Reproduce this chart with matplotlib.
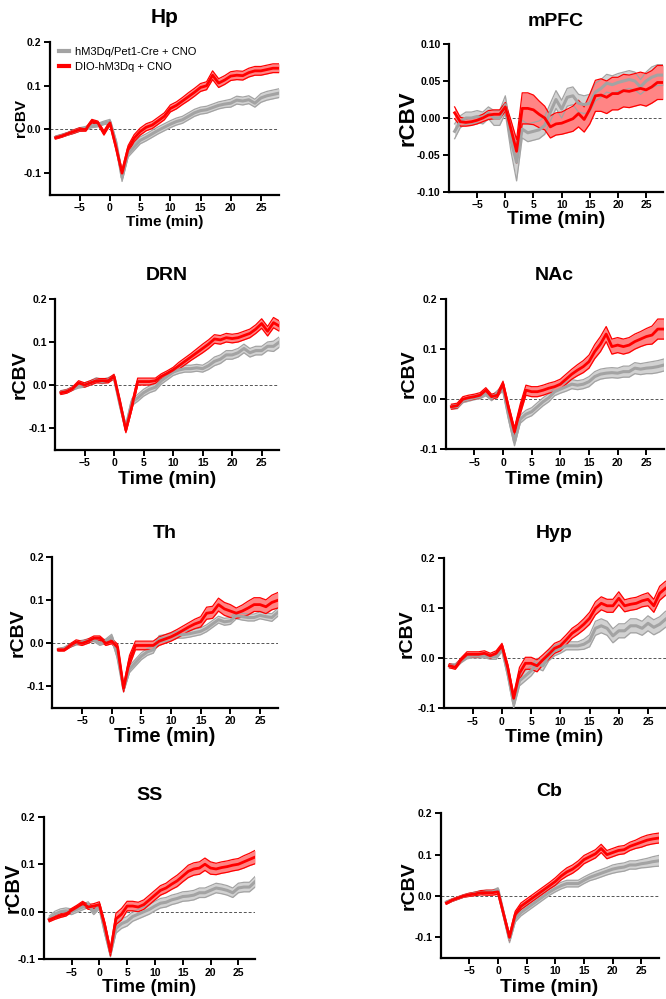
import matplotlib.pyplot as plt
from matplotlib.lines import Line2D
import numpy as np

plt.rcParams['font.family'] = ['Liberation Sans', 'DejaVu Sans']

# time points (min), -9 .. 28
time = list(range(-9, 29))

legend_labels = ['hM3Dq/Pet1-Cre + CNO', 'DIO-hM3Dq + CNO']

# ---- Hp
hp_gray = [-0.018, -0.014, -0.01, -0.005, 0.0, 0.003, 0.008, 0.01, 0.015, 0.018,
           -0.03, -0.11, -0.055, -0.04, -0.025, -0.018, -0.01, -0.002, 0.005, 0.012,
           0.018, 0.022, 0.03, 0.038, 0.043, 0.045, 0.05, 0.055, 0.058, 0.06,
           0.067, 0.065, 0.068, 0.06, 0.072, 0.077, 0.08, 0.083]
hp_gray_sem = [0.003, 0.003, 0.003, 0.004, 0.004, 0.004, 0.004, 0.004, 0.004, 0.005,
               0.006, 0.009, 0.008, 0.008, 0.008, 0.008, 0.008, 0.008, 0.008, 0.008,
               0.008, 0.008, 0.008, 0.008, 0.008, 0.008, 0.008, 0.008, 0.008, 0.009,
               0.009, 0.009, 0.009, 0.009, 0.01, 0.01, 0.01, 0.01]
hp_red = [-0.019, -0.015, -0.01, -0.005, 0.0, 0.0, 0.019, 0.015, -0.008, 0.015,
          -0.04, -0.1, -0.045, -0.02, -0.005, 0.005, 0.01, 0.02, 0.03, 0.048,
          0.055, 0.065, 0.075, 0.085, 0.096, 0.1, 0.124, 0.106, 0.113, 0.122,
          0.124, 0.123, 0.13, 0.134, 0.134, 0.137, 0.14, 0.14]
hp_red_sem = [0.003, 0.003, 0.003, 0.004, 0.004, 0.004, 0.004, 0.004, 0.005, 0.005,
              0.006, 0.008, 0.008, 0.008, 0.008, 0.008, 0.008, 0.008, 0.008, 0.008,
              0.008, 0.008, 0.009, 0.009, 0.009, 0.009, 0.01, 0.01, 0.01, 0.01,
              0.01, 0.01, 0.01, 0.01, 0.01, 0.01, 0.01, 0.01]

# ---- mPFC
mpfc_gray = [-0.018, -0.005, 0.0, 0.0, 0.002, 0.0, 0.007, 0.0, 0.0, 0.018,
             -0.03, -0.06, -0.015, -0.02, -0.018, -0.016, -0.01, 0.008, 0.025, 0.012,
             0.028, 0.03, 0.02, 0.018, 0.02, 0.035, 0.04, 0.047, 0.045, 0.048,
             0.05, 0.052, 0.05, 0.042, 0.05, 0.055, 0.058, 0.058]
mpfc_gray_sem = [0.01, 0.008, 0.008, 0.008, 0.008, 0.008, 0.008, 0.01, 0.01, 0.012,
                 0.015, 0.025, 0.012, 0.012, 0.012, 0.012, 0.012, 0.012, 0.012, 0.012,
                 0.012, 0.012, 0.012, 0.012, 0.012, 0.012, 0.012, 0.012, 0.012, 0.012,
                 0.012, 0.012, 0.012, 0.01, 0.012, 0.014, 0.014, 0.014]
mpfc_red = [0.007, -0.005, -0.006, -0.005, -0.003, 0.0, 0.004, 0.005, 0.005, 0.015,
            -0.015, -0.045, 0.013, 0.013, 0.011, 0.005, 0.0, -0.012, -0.008, -0.007,
            -0.004, -0.001, 0.006, -0.002, 0.012, 0.03, 0.031, 0.028, 0.033, 0.033,
            0.037, 0.036, 0.038, 0.04, 0.038, 0.042, 0.048, 0.048]
mpfc_red_sem = [0.008, 0.006, 0.005, 0.005, 0.005, 0.005, 0.006, 0.006, 0.006, 0.006,
                0.012, 0.016, 0.021, 0.021, 0.02, 0.018, 0.016, 0.015, 0.015, 0.015,
                0.016, 0.017, 0.018, 0.017, 0.02, 0.021, 0.022, 0.022, 0.022, 0.022,
                0.022, 0.022, 0.022, 0.022, 0.022, 0.022, 0.023, 0.023]

# ---- DRN
drn_gray = [-0.017, -0.014, -0.008, -0.002, 0.0, 0.005, 0.012, 0.008, 0.012, 0.018,
            -0.045, -0.1, -0.04, -0.03, -0.018, -0.01, -0.005, 0.01, 0.02, 0.03,
            0.035, 0.038, 0.038, 0.04, 0.038, 0.045, 0.055, 0.06, 0.07, 0.07,
            0.075, 0.085, 0.075, 0.08, 0.08, 0.09, 0.09, 0.1]
drn_gray_sem = [0.004, 0.004, 0.004, 0.005, 0.005, 0.005, 0.005, 0.005, 0.005, 0.005,
                0.007, 0.008, 0.008, 0.008, 0.008, 0.008, 0.008, 0.008, 0.008, 0.008,
                0.008, 0.008, 0.008, 0.008, 0.008, 0.009, 0.01, 0.01, 0.01, 0.01,
                0.01, 0.01, 0.01, 0.01, 0.01, 0.01, 0.012, 0.012]
drn_red = [-0.018, -0.015, -0.008, 0.005, 0.0, 0.005, 0.01, 0.01, 0.01, 0.02,
           -0.04, -0.105, -0.05, 0.008, 0.008, 0.008, 0.01, 0.02, 0.027, 0.035,
           0.045, 0.055, 0.065, 0.075, 0.085, 0.095, 0.107, 0.105, 0.11, 0.108,
           0.11, 0.115, 0.12, 0.13, 0.143, 0.125, 0.145, 0.137]
drn_red_sem = [0.004, 0.004, 0.004, 0.005, 0.005, 0.005, 0.005, 0.005, 0.005, 0.005,
               0.006, 0.006, 0.008, 0.008, 0.008, 0.008, 0.006, 0.006, 0.006, 0.006,
               0.008, 0.008, 0.008, 0.009, 0.01, 0.01, 0.01, 0.01, 0.01, 0.01,
               0.01, 0.01, 0.01, 0.01, 0.011, 0.011, 0.012, 0.012]

# ---- NAc
nac_gray = [-0.015, -0.015, -0.003, 0.0, 0.003, 0.005, 0.012, 0.002, 0.012, 0.022,
            -0.035, -0.085, -0.04, -0.03, -0.025, -0.015, -0.005, 0.003, 0.015, 0.02,
            0.025, 0.03, 0.028, 0.03, 0.035, 0.045, 0.05, 0.052, 0.053, 0.052,
            0.055, 0.055, 0.062, 0.06, 0.062, 0.063, 0.065, 0.068]
nac_gray_sem = [0.004, 0.004, 0.004, 0.004, 0.004, 0.004, 0.005, 0.005, 0.005, 0.006,
                0.007, 0.008, 0.008, 0.008, 0.008, 0.008, 0.008, 0.008, 0.008, 0.008,
                0.009, 0.009, 0.009, 0.009, 0.01, 0.01, 0.01, 0.01, 0.01, 0.01,
                0.011, 0.011, 0.011, 0.011, 0.011, 0.012, 0.012, 0.012]
nac_red = [-0.015, -0.013, 0.0, 0.003, 0.005, 0.008, 0.018, 0.005, 0.008, 0.03,
           -0.02, -0.065, -0.02, 0.018, 0.015, 0.015, 0.018, 0.022, 0.025, 0.03,
           0.04, 0.05, 0.058, 0.065, 0.075, 0.095, 0.11, 0.13, 0.105, 0.108,
           0.105, 0.108, 0.115, 0.12, 0.125, 0.128, 0.14, 0.14]
nac_red_sem = [0.005, 0.005, 0.005, 0.005, 0.005, 0.005, 0.005, 0.005, 0.005, 0.006,
               0.008, 0.008, 0.01, 0.01, 0.01, 0.01, 0.01, 0.01, 0.01, 0.01,
               0.01, 0.01, 0.011, 0.012, 0.013, 0.014, 0.015, 0.015, 0.015, 0.015,
               0.015, 0.015, 0.015, 0.015, 0.016, 0.018, 0.02, 0.02]

# ---- Th
th_gray = [-0.015, -0.012, -0.005, 0.0, 0.003, 0.006, 0.008, 0.0, 0.005, 0.015,
           -0.03, -0.105, -0.06, -0.045, -0.03, -0.02, -0.015, 0.01, 0.012, 0.015,
           0.02, 0.02, 0.022, 0.025, 0.028, 0.035, 0.045, 0.055, 0.05, 0.052,
           0.065, 0.062, 0.06, 0.06, 0.065, 0.062, 0.06, 0.072]
th_gray_sem = [0.003, 0.003, 0.004, 0.004, 0.004, 0.004, 0.004, 0.005, 0.005, 0.006,
               0.007, 0.008, 0.008, 0.008, 0.008, 0.008, 0.008, 0.008, 0.008, 0.008,
               0.008, 0.008, 0.008, 0.008, 0.008, 0.008, 0.008, 0.008, 0.008, 0.008,
               0.008, 0.008, 0.008, 0.008, 0.008, 0.008, 0.009, 0.009]
th_red = [-0.015, -0.015, -0.005, 0.003, 0.0, 0.005, 0.012, 0.012, 0.0, 0.005,
          -0.01, -0.105, -0.04, -0.005, -0.005, -0.005, -0.005, 0.005, 0.01, 0.015,
          0.022, 0.03, 0.038, 0.045, 0.05, 0.07, 0.072, 0.09, 0.08, 0.075,
          0.07, 0.075, 0.082, 0.09, 0.09, 0.085, 0.095, 0.1]
th_red_sem = [0.003, 0.003, 0.004, 0.005, 0.005, 0.005, 0.005, 0.005, 0.005, 0.006,
              0.008, 0.008, 0.012, 0.01, 0.01, 0.01, 0.01, 0.01, 0.01, 0.01,
              0.01, 0.01, 0.01, 0.011, 0.012, 0.014, 0.014, 0.015, 0.015, 0.015,
              0.012, 0.014, 0.016, 0.016, 0.016, 0.016, 0.017, 0.018]

# ---- Hyp
hyp_gray = [-0.015, -0.015, -0.005, 0.003, 0.005, 0.005, 0.005, 0.003, 0.003, 0.02,
            -0.03, -0.09, -0.045, -0.035, -0.025, -0.01, -0.015, 0.005, 0.015, 0.02,
            0.025, 0.025, 0.025, 0.028, 0.035, 0.06, 0.065, 0.06, 0.045, 0.055,
            0.055, 0.065, 0.065, 0.06, 0.07, 0.062, 0.068, 0.078]
hyp_gray_sem = [0.004, 0.004, 0.004, 0.004, 0.004, 0.004, 0.004, 0.005, 0.005, 0.006,
                0.008, 0.01, 0.01, 0.01, 0.01, 0.01, 0.01, 0.01, 0.01, 0.01,
                0.008, 0.008, 0.008, 0.01, 0.012, 0.014, 0.014, 0.014, 0.014, 0.014,
                0.014, 0.014, 0.014, 0.014, 0.015, 0.015, 0.015, 0.016]
hyp_red = [-0.015, -0.018, -0.003, 0.008, 0.008, 0.008, 0.01, 0.005, 0.01, 0.025,
           -0.02, -0.08, -0.03, -0.01, -0.01, -0.015, -0.003, 0.008, 0.02, 0.025,
           0.037, 0.05, 0.058, 0.068, 0.08, 0.1, 0.11, 0.105, 0.105, 0.12,
           0.105, 0.108, 0.11, 0.115, 0.118, 0.105, 0.13, 0.14]
hyp_red_sem = [0.004, 0.004, 0.004, 0.005, 0.005, 0.005, 0.005, 0.005, 0.005, 0.005,
               0.008, 0.008, 0.012, 0.012, 0.012, 0.012, 0.01, 0.01, 0.01, 0.01,
               0.01, 0.01, 0.01, 0.011, 0.012, 0.013, 0.013, 0.013, 0.013, 0.013,
               0.012, 0.012, 0.012, 0.012, 0.013, 0.013, 0.014, 0.014]

# ---- SS
ss_gray = [-0.015, -0.005, 0.0, 0.002, 0.0, 0.005, 0.01, 0.015, 0.0, 0.012,
           -0.04, -0.085, -0.035, -0.025, -0.02, -0.01, -0.005, 0.0, 0.005, 0.012,
           0.018, 0.02, 0.025, 0.028, 0.032, 0.033, 0.035, 0.04, 0.04, 0.045,
           0.05, 0.048, 0.045, 0.04, 0.05, 0.052, 0.052, 0.063]
ss_gray_sem = [0.006, 0.006, 0.006, 0.006, 0.006, 0.006, 0.006, 0.006, 0.006, 0.006,
               0.008, 0.01, 0.01, 0.01, 0.01, 0.01, 0.01, 0.01, 0.01, 0.01,
               0.01, 0.01, 0.01, 0.01, 0.01, 0.01, 0.01, 0.01, 0.01, 0.01,
               0.01, 0.01, 0.01, 0.01, 0.01, 0.01, 0.01, 0.011]
ss_red = [-0.017, -0.012, -0.008, -0.005, 0.003, 0.01, 0.018, 0.01, 0.012, 0.015,
          -0.03, -0.085, -0.015, -0.005, 0.012, 0.012, 0.01, 0.015, 0.025, 0.035,
          0.045, 0.05, 0.058, 0.065, 0.075, 0.085, 0.09, 0.092, 0.1, 0.092,
          0.09, 0.093, 0.095, 0.098, 0.1, 0.105, 0.11, 0.115]
ss_red_sem = [0.004, 0.004, 0.004, 0.004, 0.004, 0.004, 0.004, 0.005, 0.005, 0.006,
              0.008, 0.008, 0.012, 0.012, 0.01, 0.01, 0.01, 0.01, 0.01, 0.01,
              0.01, 0.01, 0.011, 0.012, 0.012, 0.013, 0.013, 0.013, 0.013, 0.013,
              0.012, 0.012, 0.012, 0.012, 0.012, 0.013, 0.013, 0.014]

# ---- Cb
cb_gray = [-0.015, -0.01, -0.005, 0.0, 0.003, 0.006, 0.008, 0.01, 0.01, 0.015,
           -0.045, -0.105, -0.055, -0.04, -0.03, -0.02, -0.01, 0.0, 0.01, 0.018,
           0.025, 0.03, 0.03, 0.03, 0.038, 0.045, 0.05, 0.055, 0.06, 0.065,
           0.068, 0.07, 0.075, 0.075, 0.078, 0.08, 0.083, 0.085]
cb_gray_sem = [0.003, 0.003, 0.003, 0.003, 0.003, 0.004, 0.004, 0.004, 0.004, 0.005,
               0.006, 0.008, 0.008, 0.008, 0.008, 0.008, 0.008, 0.008, 0.008, 0.008,
               0.008, 0.008, 0.008, 0.008, 0.008, 0.008, 0.009, 0.009, 0.009, 0.01,
               0.01, 0.01, 0.01, 0.01, 0.01, 0.011, 0.012, 0.013]
cb_red = [-0.017, -0.01, -0.005, 0.0, 0.003, 0.005, 0.008, 0.008, 0.008, 0.01,
          -0.045, -0.1, -0.045, -0.025, -0.015, -0.005, 0.005, 0.015, 0.025, 0.035,
          0.048, 0.058, 0.065, 0.075, 0.088, 0.095, 0.102, 0.115, 0.1, 0.105,
          0.11, 0.112, 0.12, 0.125, 0.13, 0.135, 0.138, 0.14]
cb_red_sem = [0.003, 0.003, 0.003, 0.003, 0.004, 0.004, 0.005, 0.006, 0.006, 0.006,
              0.006, 0.008, 0.008, 0.008, 0.008, 0.008, 0.008, 0.008, 0.008, 0.009,
              0.009, 0.01, 0.01, 0.01, 0.01, 0.01, 0.01, 0.01, 0.01, 0.01,
              0.01, 0.01, 0.01, 0.01, 0.012, 0.012, 0.012, 0.012]

W, H = 666, 999
fig = plt.figure(figsize=(W / 100, H / 100), dpi=100)

GRAY_FILL = '#d2d2d2'
GRAY_LINE = '#a3a3a3'
RED_FILL = '#ff8585'
RED_LINE = '#ff0000'


def band(ax, mean, sem, fill, edge, mlw):
    m = np.array(mean)
    s = np.array(sem)
    ax.fill_between(time, m - s, m + s, color=fill, lw=0, zorder=2)
    ax.plot(time, m - s, color=edge, lw=0.9, zorder=3)
    ax.plot(time, m + s, color=edge, lw=0.9, zorder=3)
    ax.plot(time, m, color=edge, lw=mlw, zorder=4)


def panel(box, title, gray, gray_sem, red, red_sem, ymin, yticks, ylabels,
          title_fs, xl_fs, yl_fs, ylab_dx, xlab_y, title_y):
    l, r, t, b = box
    ax = fig.add_axes([l / W, 1 - b / H, (r - l) / W, (b - t) / H])
    band(ax, gray, gray_sem, GRAY_FILL, GRAY_LINE, 2.2)
    band(ax, red, red_sem, RED_FILL, RED_LINE, 2.0)
    ax.axhline(0, color='#555555', lw=0.7, ls=(0, (3, 2)), zorder=1)
    ax.set_xlim(-10, 28)
    ax.set_ylim(ymin, yticks[-1])
    ax.set_xticks([-5, 0, 5, 10, 15, 20, 25])
    ax.set_yticks(yticks)
    ax.set_yticklabels(ylabels)
    for s in ['top', 'right']:
        ax.spines[s].set_visible(False)
    for s in ['left', 'bottom']:
        ax.spines[s].set_linewidth(1.6)
    ax.tick_params(direction='out', length=4, width=1.4, labelsize=7.5, pad=2)
    for lab in ax.get_xticklabels() + ax.get_yticklabels():
        lab.set_fontweight('bold')
    ax.set_xlabel('Time (min)', fontsize=xl_fs, fontweight='bold')
    ax.xaxis.set_label_coords(0.5, -(xlab_y - b) / (b - t))
    ax.xaxis.label.set_va('center')
    ax.set_ylabel('rCBV', fontsize=yl_fs, fontweight='bold')
    ax.yaxis.set_label_coords(-ylab_dx / (r - l), 0.5)
    ax.yaxis.label.set_va('center')
    ax.text(0.5, 1 + (t - title_y) / (b - t), title, transform=ax.transAxes,
            ha='center', va='center', fontsize=title_fs, fontweight='bold')
    return ax


t1 = [-0.1, 0.0, 0.1, 0.2]
t1l = ['-0.1', '0.0', '0.1', '0.2']
t2 = [-0.1, -0.05, 0.0, 0.05, 0.1]
t2l = ['-0.10', '-0.05', '0.00', '0.05', '0.10']

ax_hp = panel((49.6, 279, 42, 195), 'Hp', hp_gray, hp_gray_sem, hp_red, hp_red_sem,
              -0.15, t1, t1l, 15, 11, 11, 29, 222, 18)
panel((449, 663, 44, 192), 'mPFC', mpfc_gray, mpfc_gray_sem, mpfc_red, mpfc_red_sem,
      -0.1, t2, t2l, 14, 14, 16, 41, 220, 22)
panel((55, 279.4, 299, 449.5), 'DRN', drn_gray, drn_gray_sem, drn_red, drn_red_sem,
      -0.15, t1, t1l, 14, 14, 14, 35, 479, 275)
panel((445.7, 663.5, 299, 449.3), 'NAc', nac_gray, nac_gray_sem, nac_red, nac_red_sem,
      -0.1, t1, t1l, 14, 14, 14, 37, 479, 275)
panel((52.4, 277.8, 557.3, 707.8), 'Th', th_gray, th_gray_sem, th_red, th_red_sem,
      -0.15, t1, t1l, 14, 14.5, 14, 34, 737, 533)
panel((443.6, 665.5, 558.3, 708.3), 'Hyp', hyp_gray, hyp_gray_sem, hyp_red, hyp_red_sem,
      -0.1, t1, t1l, 14, 14, 14, 36, 737, 533)
panel((43.7, 255, 816.7, 959.3), 'SS', ss_gray, ss_gray_sem, ss_red, ss_red_sem,
      -0.1, t1, t1l, 14, 13.5, 14.5, 31, 987, 795)
panel((440.7, 658.5, 813.3, 958), 'Cb', cb_gray, cb_gray_sem, cb_red, cb_red_sem,
      -0.15, t1, t1l, 14, 14, 14, 32, 987, 792)

handles = [Line2D([], [], color=GRAY_LINE, lw=3), Line2D([], [], color=RED_LINE, lw=3)]
fig.legend(handles, legend_labels, loc='upper left', bbox_to_anchor=(59 / W, 1 - 47 / H),
           frameon=False, fontsize=8, handlelength=0.9, handletextpad=0.5,
           labelspacing=0.45, borderaxespad=0, borderpad=0)

fig.savefig('out.png', dpi=100)
